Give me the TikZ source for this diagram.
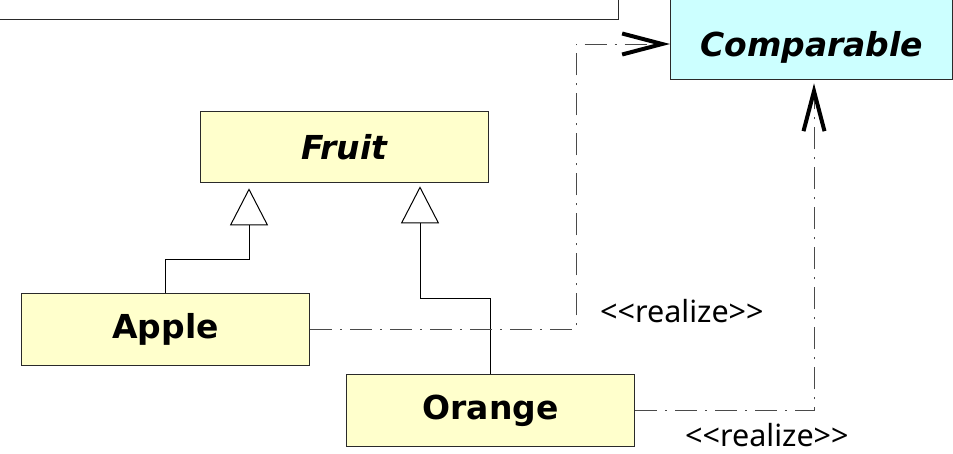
\documentclass[tikz,border=0pt]{standalone}
\usepackage{fontspec}
\setmainfont{DejaVu Sans}
\newfontfamily\stereofont{Noto Sans}
\usetikzlibrary{arrows.meta}

\definecolor{classfill}{HTML}{FFFFCC}
\definecolor{ifacefill}{HTML}{CCFFFF}
\definecolor{borderc}{HTML}{2A2A2A}
\definecolor{dashc}{HTML}{4A4A4A}

\begin{document}
\begin{tikzpicture}[x=1pt,y=-1pt,
  box/.style={draw=borderc, line width=1.3pt, inner sep=0pt, anchor=north west,
    font=\fontsize{33}{40}\selectfont\bfseries},
  classbox/.style={box, fill=classfill},
  ifacebox/.style={box, fill=ifacefill, font=\fontsize{33}{40}\selectfont\bfseries\itshape},
  stereo/.style={font=\stereofont\fontsize{30.5}{36}\selectfont, inner sep=0pt},
  gen/.style={draw=black, line width=1pt,
    -{Triangle[open, fill=white, length=37pt, width=38pt, line width=1pt]}},
  realize/.style={draw=dashc, line width=1pt,
    dash pattern=on 22pt off 8pt on 2pt off 8pt,
    -{Straight Barb[length=40pt, width=21pt, line width=4pt, color=black]}},
]
\useasboundingbox (0,0) rectangle (953,453);
\clip (0,0) rectangle (953,453);

% frame at the upper left
\node[box, fill=white, minimum width=640pt, minimum height=40pt] (frame) at (-22,-21) {};

% classes and interface (the interface name sits low in its box)
\node[ifacebox, minimum width=282pt, minimum height=88pt,
      text height=42pt, text depth=0pt] (Comparable) at (670,-9) {Comparable};
\node[classbox, font=\fontsize{33}{40}\selectfont\bfseries\itshape,
      minimum width=288pt, minimum height=71pt] (Fruit) at (200,111) {Fruit};
\node[classbox, minimum width=288pt, minimum height=72pt] (Apple) at (21,293) {Apple};
\node[classbox, minimum width=288pt, minimum height=72pt] (Orange) at (346,374) {Orange};

% generalizations
\draw[gen, shorten >=5pt] (Apple.north) |- (249,259) -- (249,0 |- Fruit.south);
\draw[gen, shorten >=3pt] (Orange.north) |- (420,298) -- (420,0 |- Fruit.south);

% realizations
\draw[realize] (Apple.east) -| (576,44) -- (Comparable.west |- 576,44);
\draw[realize, shorten >=3pt] (Orange.east) -| (814,0 |- Comparable.south);

% stereotype labels
\node[stereo, anchor=base west] (r1) at (600,322) {<<realize>>};
\node[stereo, anchor=base west] (r2) at (685,446) {<<realize>>};
\end{tikzpicture}
\end{document}
